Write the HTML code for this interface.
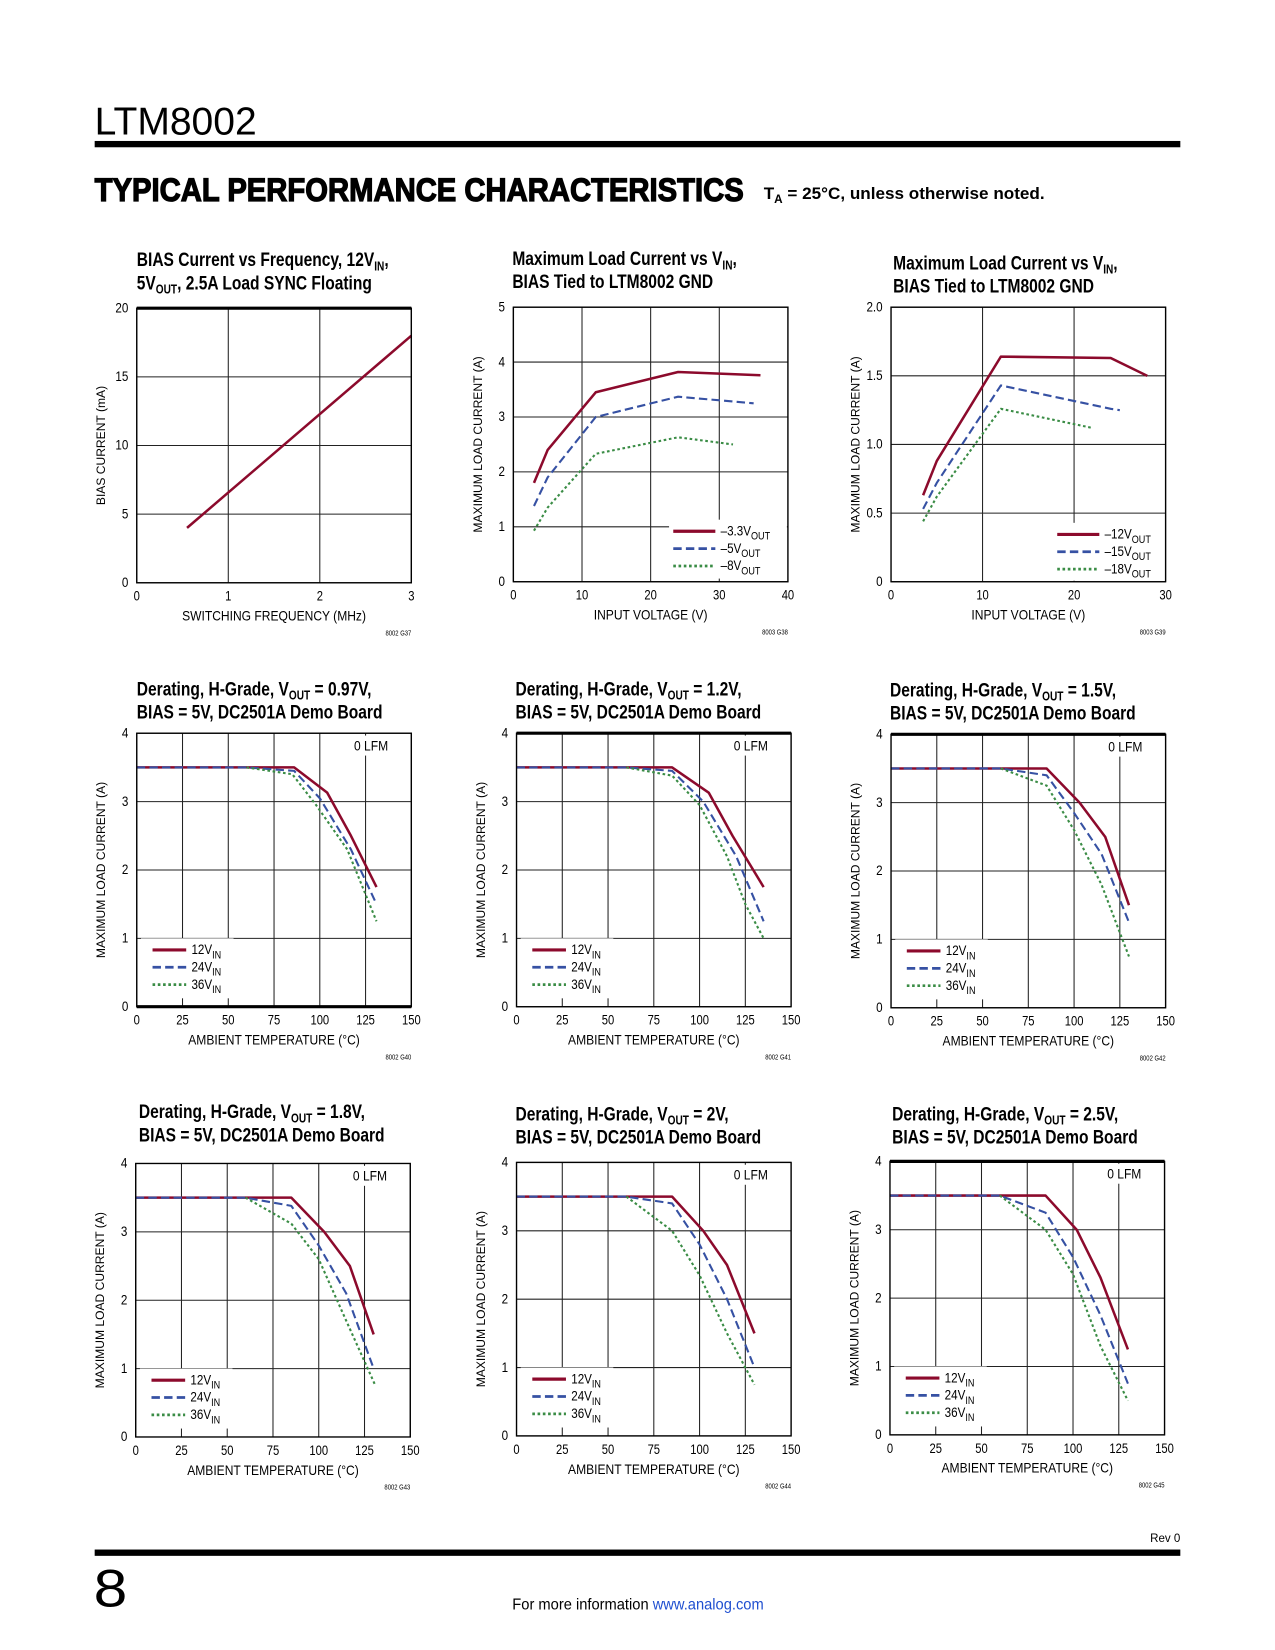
<!DOCTYPE html>
<html><head><meta charset="utf-8">
<style>
html,body{margin:0;padding:0;background:#fff;}
svg{display:block;font-family:"Liberation Sans",sans-serif;}
</style></head>
<body>
<svg id="page" width="1275" height="1650" viewBox="0 0 1212 1568.5" preserveAspectRatio="none" xmlns="http://www.w3.org/2000/svg">
<rect x="0" y="0" width="1212" height="1569" fill="#fff"/>
<text x="90" y="128" font-size="37" textLength="154" lengthAdjust="spacingAndGlyphs" fill="#000">LTM8002</text>
<rect x="90" y="134" width="1032" height="6" fill="#000"/>
<text x="90" y="191" font-size="31" font-weight="bold" stroke="#000" stroke-width="1.2" textLength="617" lengthAdjust="spacingAndGlyphs" fill="#000">TYPICAL PERFORMANCE CHARACTERISTICS</text>
<text x="726" y="189" font-size="16" font-weight="bold" fill="#000" textLength="267" lengthAdjust="spacingAndGlyphs">T<tspan font-size="11" dy="4">A</tspan><tspan dy="-4"> = 25°C, unless otherwise noted.</tspan></text>
<g id="charts"></g>
<text x="1122" y="1466" font-size="11" text-anchor="end" fill="#000">Rev 0</text>
<rect x="90" y="1473" width="1032" height="6" fill="#000"/>
<text x="89" y="1527" font-size="50" fill="#000" textLength="32" lengthAdjust="spacingAndGlyphs">8</text>
<text x="487" y="1530" font-size="15" fill="#000" textLength="239" lengthAdjust="spacingAndGlyphs">For more information <tspan fill="#1f4fd0">www.analog.com</tspan></text>
</svg>
<script>
// ---- Chart 1 data ----
const c1_freq = [0.55, 3];
const c1_bias = [4, 18];
const c1_xticks = [0, 1, 2, 3];
const c1_yticks = [0, 5, 10, 15, 20];
// ---- Chart 2 data ----
const c2_vin_33 = [3, 5, 12, 24, 36];
const c2_a_33 = [1.8, 2.4, 3.45, 3.82, 3.76];
const c2_vin_5 = [3, 5, 12, 24, 35];
const c2_a_5 = [1.38, 1.9, 3.0, 3.37, 3.25];
const c2_vin_8 = [3, 5, 12, 24, 32];
const c2_a_8 = [0.93, 1.35, 2.33, 2.63, 2.5];
const c2_xticks = [0, 10, 20, 30, 40];
const c2_yticks = [0, 1, 2, 3, 4, 5];
// ---- Chart 3 data ----
const c3_vin_12 = [3.5, 5, 12, 24, 28];
const c3_a_12 = [0.63, 0.88, 1.64, 1.63, 1.5];
const c3_vin_15 = [3.5, 5, 12, 24, 25];
const c3_a_15 = [0.53, 0.72, 1.43, 1.26, 1.25];
const c3_vin_18 = [3.5, 5, 12, 22];
const c3_a_18 = [0.44, 0.62, 1.26, 1.12];
const c3_xticks = [0, 10, 20, 30];
const c3_yticks = [0, 0.5, 1.0, 1.5, 2.0];
const c3_ylabels = ["0", "0.5", "1.0", "1.5", "2.0"];
// ---- Derating charts shared ticks ----
const d_xticks = [0, 25, 50, 75, 100, 125, 150];
const d_yticks = [0, 1, 2, 3, 4];
// ---- Chart 4: 0.97V ----
const c4_t12 = [0, 86, 104, 117, 131];   const c4_a12 = [3.5, 3.5, 3.13, 2.5, 1.75];
const c4_t24 = [0, 60, 86, 100, 117, 131]; const c4_a24 = [3.5, 3.5, 3.45, 3.05, 2.3, 1.5];
const c4_t36 = [60, 85, 98, 115, 131];   const c4_a36 = [3.5, 3.4, 2.95, 2.3, 1.25];
// ---- Chart 5: 1.2V ----
const c5_t12 = [0, 85, 105, 118, 135];   const c5_a12 = [3.5, 3.5, 3.13, 2.5, 1.75];
const c5_t24 = [0, 60, 85, 102, 120, 135]; const c5_a24 = [3.5, 3.5, 3.45, 3.0, 2.2, 1.25];
const c5_t36 = [60, 85, 100, 115, 125, 135]; const c5_a36 = [3.5, 3.38, 2.95, 2.2, 1.5, 1.0];
// ---- Chart 6: 1.5V ----
const c6_t12 = [0, 85, 103, 117, 130];   const c6_a12 = [3.5, 3.5, 3.0, 2.5, 1.5];
const c6_t24 = [0, 60, 85, 100, 115, 130]; const c6_a24 = [3.5, 3.5, 3.4, 2.85, 2.25, 1.25];
const c6_t36 = [60, 85, 100, 115, 130];  const c6_a36 = [3.5, 3.25, 2.6, 1.8, 0.75];
// ---- Chart 7: 1.8V ----
const c7_t12 = [0, 85, 103, 117, 130];   const c7_a12 = [3.5, 3.5, 3.0, 2.5, 1.5];
const c7_t24 = [0, 60, 85, 100, 115, 130]; const c7_a24 = [3.5, 3.5, 3.38, 2.8, 2.1, 1.0];
const c7_t36 = [60, 85, 100, 115, 131];  const c7_a36 = [3.5, 3.12, 2.6, 1.7, 0.75];
// ---- Chart 8: 2V ----
const c8_t12 = [0, 85, 102, 115, 130];   const c8_a12 = [3.5, 3.5, 3.0, 2.5, 1.5];
const c8_t24 = [0, 60, 85, 100, 115, 130]; const c8_a24 = [3.5, 3.5, 3.4, 2.8, 2.0, 1.0];
const c8_t36 = [60, 85, 100, 115, 130];  const c8_a36 = [3.5, 3.0, 2.35, 1.5, 0.75];
// ---- Chart 9: 2.5V ----
const c9_t12 = [0, 85, 102, 115, 130];   const c9_a12 = [3.5, 3.5, 3.0, 2.3, 1.25];
const c9_t24 = [0, 60, 85, 100, 115, 130]; const c9_a24 = [3.5, 3.5, 3.25, 2.6, 1.75, 0.75];
const c9_t36 = [60, 85, 100, 115, 130];  const c9_a36 = [3.5, 3.0, 2.35, 1.3, 0.5];

const NS = "http://www.w3.org/2000/svg";
const root = document.getElementById("charts");
const RED = "#8c0a2c", BLUE = "#3651a3", GREEN = "#3a8c45";
const STY = {
  red: {stroke: RED, w: 2.4, dash: null},
  blue: {stroke: BLUE, w: 2, dash: "8 4"},
  green: {stroke: GREEN, w: 2, dash: "2.5 2.5"}
};
function mk(tag, attrs, parent) {
  const e = document.createElementNS(NS, tag);
  for (const k in attrs) e.setAttribute(k, attrs[k]);
  (parent || root).appendChild(e);
  return e;
}
function condText(parent, x, y, str, size, opts) {
  opts = opts || {};
  const sx = opts.sx || 0.82;
  const t = mk("text", {x: 0, y: 0, "font-size": size, fill: "#000",
    transform: "translate(" + x + "," + y + ") scale(" + sx + ",1)"}, parent);
  if (opts.anchor) t.setAttribute("text-anchor", opts.anchor);
  if (opts.bold) t.setAttribute("font-weight", "bold");
  t.innerHTML = str;
  return t;
}

function chart(cfg) {
  const g = mk("g", {});
  
  
  const {L, T, W, H} = cfg;
  const sx = v => L + (v - cfg.xmin) / (cfg.xmax - cfg.xmin) * W;
  const sy = v => T + H - (v - cfg.ymin) / (cfg.ymax - cfg.ymin) * H;
  const tt = mk("g", {}, g);
  
  
  condText(tt, cfg.tx, cfg.ty1, cfg.title1, 18.5, {bold: true, sx: 0.8});
  condText(tt, cfg.tx, cfg.ty1 + 22, cfg.title2, 18.5, {bold: true, sx: 0.8});
  const grid = mk("g", {stroke: "#222", "stroke-width": 1}, g);
  
  
  cfg.xticks.forEach(v => { mk("line", {x1: sx(v), x2: sx(v), y1: T, y2: T + H}, grid); });
  cfg.yticks.forEach(v => { mk("line", {x1: L, x2: L + W, y1: sy(v), y2: sy(v)}, grid); });
  if (cfg.legend) {
    const lb = cfg.legend.box;
    mk("rect", {x: lb[0], y: lb[1], width: lb[2], height: lb[3], fill: "#fff"}, g);
  }
  if (cfg.note) {
    mk("rect", {x: sx(cfg.note[0]) - 20, y: sy(cfg.note[1]) - 14, width: 40, height: 19, fill: "#fff"}, g);
  }
  cfg.series.forEach(s => {
    const st = STY[s.style];
    const pts = s.x.map((xv, i) => sx(xv).toFixed(1) + "," + sy(s.y[i]).toFixed(1)).join(" ");
    const p = mk("polyline", {points: pts, fill: "none", stroke: st.stroke, "stroke-width": st.w, "stroke-linejoin": "round"}, g);
    if (st.dash) p.setAttribute("stroke-dasharray", st.dash);
    
    
  });
  const fr = mk("rect", {x: L, y: T, width: W, height: H, fill: "none", stroke: "#000", "stroke-width": 1.3}, g);
  
  
  if (cfg.thickTop) mk("line", {x1: L, x2: L + W, y1: T, y2: T, stroke: "#000", "stroke-width": 3}, g);
  if (cfg.thickBottom) mk("line", {x1: L, x2: L + W, y1: T + H, y2: T + H, stroke: "#000", "stroke-width": 3}, g);
  const xl = mk("g", {}, g);
  
  
  cfg.xticks.forEach((v, i) => condText(xl, sx(v), T + H + 17, cfg.xlabels ? cfg.xlabels[i] : String(v), 13, {anchor: "middle"}));
  const yl = mk("g", {}, g);
  
  
  cfg.yticks.forEach((v, i) => condText(yl, L - 8, sy(v) + 4, cfg.ylabels ? cfg.ylabels[i] : String(v), 13.5, {anchor: "end"}));
  const xt = condText(g, L + W / 2, T + H + 36, cfg.xtitle, 13.5, {anchor: "middle", sx: 0.85});
  
  
  const yt = mk("text", {x: 0, y: 0, "font-size": 11.5, fill: "#000", "text-anchor": "middle",
    transform: "translate(" + (L - 30) + "," + (T + H / 2) + ") rotate(-90)"}, g);
  yt.textContent = cfg.ytitle;
  
  
  const fc = condText(g, L + W, T + H + 50, cfg.code, 7, {anchor: "end", sx: 0.8});
  
  
  if (cfg.note) {
    const n = condText(g, sx(cfg.note[0]), sy(cfg.note[1]), "0 LFM", 13.5, {anchor: "middle", sx: 0.85});
    
    
  }
  if (cfg.legend) {
    const lg = mk("g", {}, g);
    
    
    const le = cfg.legend;
    le.items.forEach((it, i) => {
      const y = le.y0 + i * le.dy;
      const st = STY[it.style];
      const ln = mk("line", {x1: le.x1, x2: le.x2, y1: y, y2: y, stroke: st.stroke, "stroke-width": st.w + 0.6}, lg);
      if (st.dash) ln.setAttribute("stroke-dasharray", st.dash);
      
      
      const t = condText(lg, le.x2 + 5, y + 4, it.label, 13.5, {sx: 0.82});
      
      
    });
  }
}

const sub = s => '<tspan font-size="12" dy="4">' + s + '</tspan><tspan dy="-4">';
const lsub = s => '<tspan font-size="10.5" dy="4">' + s + '</tspan><tspan dy="-4">';
function vin(v) { return v + 'V' + lsub('IN') + '</tspan>'; }
function vout(v) { return '–' + v + 'V' + lsub('OUT') + '</tspan>'; }

const dLegend = (L, B) => ({
  box: [L + 4, B - 65, 88, 57], x1: L + 15, x2: L + 47, y0: B - 54, dy: 16.5,
  items: [{style: "red", label: vin(12)}, {style: "blue", label: vin(24)}, {style: "green", label: vin(36)}]
});
function derating(name, L, T, tx, ty1, vo, code, t12, a12, t24, a24, t36, a36, extra) {
  const cfg = {
    name, L, T, W: 261, H: 260, tx, ty1,
    title1: 'Derating, H-Grade, V' + sub('OUT') + ' = ' + vo + ',</tspan>',
    title2: 'BIAS = 5V, DC2501A Demo Board',
    xmin: 0, xmax: 150, ymin: 0, ymax: 4, xticks: d_xticks, yticks: d_yticks,
    xtitle: 'AMBIENT TEMPERATURE (°C)', ytitle: 'MAXIMUM LOAD CURRENT (A)', code,
    note: [128, 3.75],
    legend: dLegend(L, T + 260),
    series: [
      {name: 'series-12vin', style: 'red', x: t12, y: a12},
      {name: 'series-24vin', style: 'blue', x: t24, y: a24},
      {name: 'series-36vin', style: 'green', x: t36, y: a36}
    ]
  };
  Object.assign(cfg, extra || {});
  chart(cfg);
}

chart({
  name: 'chart-bias-current-vs-frequency', L: 130, T: 293, W: 261, H: 261, tx: 130, ty1: 253,
  title1: 'BIAS Current vs Frequency, 12V' + sub('IN') + ',</tspan>',
  title2: '5V' + sub('OUT') + ', 2.5A Load SYNC Floating</tspan>',
  xmin: 0, xmax: 3, ymin: 0, ymax: 20, xticks: c1_xticks, yticks: c1_yticks,
  xtitle: 'SWITCHING FREQUENCY (MHz)', ytitle: 'BIAS CURRENT (mA)', code: '8002 G37', thickTop: true,
  series: [{name: 'bias-current-line', style: 'red', x: c1_freq, y: c1_bias}]
});
chart({
  name: 'chart-max-load-vs-vin-a', L: 488, T: 292, W: 261, H: 261, tx: 487, ty1: 252,
  title1: 'Maximum Load Current vs V' + sub('IN') + ',</tspan>',
  title2: 'BIAS Tied to LTM8002 GND',
  xmin: 0, xmax: 40, ymin: 0, ymax: 5, xticks: c2_xticks, yticks: c2_yticks,
  xtitle: 'INPUT VOLTAGE (V)', ytitle: 'MAXIMUM LOAD CURRENT (A)', code: '8003 G38',
  legend: {box: [636, 494, 112, 56], x1: 640, x2: 680, y0: 505, dy: 16.5,
    items: [{style: 'red', label: vout('3.3')}, {style: 'blue', label: vout('5')}, {style: 'green', label: vout('8')}]},
  series: [
    {name: 'series-3v3out', style: 'red', x: c2_vin_33, y: c2_a_33},
    {name: 'series-5vout', style: 'blue', x: c2_vin_5, y: c2_a_5},
    {name: 'series-8vout', style: 'green', x: c2_vin_8, y: c2_a_8}
  ]
});
chart({
  name: 'chart-max-load-vs-vin-b', L: 847, T: 292, W: 261, H: 261, tx: 849, ty1: 256,
  title1: 'Maximum Load Current vs V' + sub('IN') + ',</tspan>',
  title2: 'BIAS Tied to LTM8002 GND',
  xmin: 0, xmax: 30, ymin: 0, ymax: 2, xticks: c3_xticks, yticks: c3_yticks, ylabels: c3_ylabels,
  xtitle: 'INPUT VOLTAGE (V)', ytitle: 'MAXIMUM LOAD CURRENT (A)', code: '8003 G39',
  legend: {box: [1000, 497, 107, 55], x1: 1005, x2: 1045, y0: 508, dy: 16.5,
    items: [{style: 'red', label: vout('12')}, {style: 'blue', label: vout('15')}, {style: 'green', label: vout('18')}]},
  series: [
    {name: 'series-12vout', style: 'red', x: c3_vin_12, y: c3_a_12},
    {name: 'series-15vout', style: 'blue', x: c3_vin_15, y: c3_a_15},
    {name: 'series-18vout', style: 'green', x: c3_vin_18, y: c3_a_18}
  ]
});
derating('chart-derating-0v97', 130, 697, 130, 661, '0.97V', '8002 G40', c4_t12, c4_a12, c4_t24, c4_a24, c4_t36, c4_a36, {thickBottom: true});
derating('chart-derating-1v2', 491, 697, 490, 661, '1.2V', '8002 G41', c5_t12, c5_a12, c5_t24, c5_a24, c5_t36, c5_a36, {thickTop: true});
derating('chart-derating-1v5', 847, 698, 846, 662, '1.5V', '8002 G42', c6_t12, c6_a12, c6_t24, c6_a24, c6_t36, c6_a36, {thickTop: true});
derating('chart-derating-1v8', 129, 1106, 132, 1063, '1.8V', '8002 G43', c7_t12, c7_a12, c7_t24, c7_a24, c7_t36, c7_a36);
derating('chart-derating-2v', 491, 1105, 490, 1065, '2V', '8002 G44', c8_t12, c8_a12, c8_t24, c8_a24, c8_t36, c8_a36);
derating('chart-derating-2v5', 846, 1104, 848, 1065, '2.5V', '8002 G45', c9_t12, c9_a12, c9_t24, c9_a24, c9_t36, c9_a36, {thickTop: true});
</script>
</body></html>
